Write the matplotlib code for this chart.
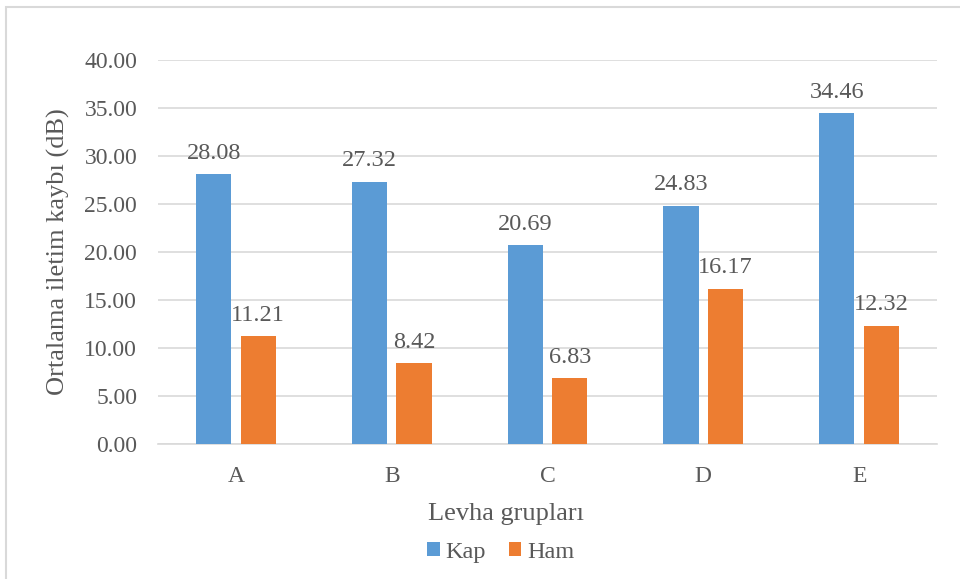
import matplotlib.pyplot as plt
import matplotlib.patches as patches
import numpy as np

groups = ['A', 'B', 'C', 'D', 'E']
kap = [28.08, 27.32, 20.69, 24.83, 34.46]
ham = [11.21, 8.42, 6.83, 16.17, 12.32]
yticks = [0, 5, 10, 15, 20, 25, 30, 35, 40]

BLUE = '#5b9bd5'
ORANGE = '#ed7d31'
TXT = '#595959'
GRID = '#d9d9d9'

plt.rcParams['font.family'] = ['Liberation Serif', 'DejaVu Serif']

fig = plt.figure(figsize=(9.6, 5.79), dpi=100)
ax = fig.add_axes([0.1646, 0.2332, 0.8114, 0.6632])

# outer chart frame (only left and top edges visible)
fig.patches.append(patches.Rectangle((6 / 960, -0.1), 1.1, 1 - 7 / 579 + 0.1,
                                     transform=fig.transFigure, fill=False,
                                     edgecolor=GRID, linewidth=1.5))

x = np.arange(len(groups))
w = 0.225
off = 0.143
b1 = ax.bar(x - off, kap, w, color=BLUE, label='Kap', zorder=3)
b2 = ax.bar(x + off, ham, w, color=ORANGE, label='Ham', zorder=3)

for bars, vals in ((b1, kap), (b2, ham)):
    for rect, v in zip(bars, vals):
        ax.annotate(f'{v:.2f}', (rect.get_x() + rect.get_width() / 2, v),
                    xytext=(0, 7.5), textcoords='offset points',
                    ha='center', va='bottom', fontsize=17.5, color=TXT)

ax.set_xlim(-0.5, len(groups) - 0.5)
ax.set_ylim(0, 40)
ax.set_yticks(yticks)
ax.set_yticklabels([f'{t:.2f}' for t in yticks])
ax.set_xticks(x)
ax.set_xticklabels(groups)
ax.tick_params(axis='both', length=0, labelsize=17, colors=TXT)
ax.tick_params(axis='x', pad=16)
ax.tick_params(axis='y', pad=15)
ax.grid(axis='y', color=GRID, linewidth=1.2, zorder=0)
for s in ['top', 'right', 'left']:
    ax.spines[s].set_visible(False)
ax.spines['bottom'].set_color(GRID)
ax.spines['bottom'].set_linewidth(1.2)

ax.set_ylabel('Ortalama iletim kaybı (dB)', fontsize=19, color=TXT, labelpad=10)
ax.set_xlabel('Levha grupları', fontsize=19, color=TXT)
ax.xaxis.set_label_coords(0.447, -0.153)

ax.legend(loc='center', bbox_to_anchor=(0.522, 0.0466), bbox_transform=fig.transFigure,
          ncol=2, frameon=False, fontsize=17.5, labelcolor=TXT,
          handlelength=0.5, handleheight=0.5, handletextpad=0.25, columnspacing=0.95)

fig.savefig('out.png', dpi=100)
